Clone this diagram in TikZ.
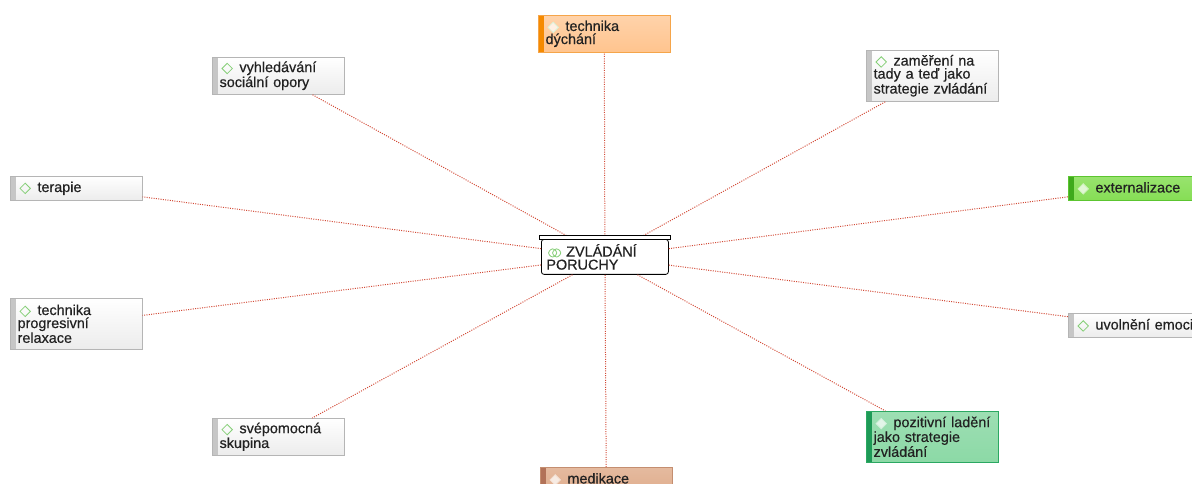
\documentclass[tikz,border=0pt]{standalone}
\usepackage{fontspec}
\setmainfont{Liberation Sans}[FakeBold=0.5]
\definecolor{linkred}{HTML}{D24A36}
\definecolor{grayfill}{HTML}{ECECEC}
\definecolor{grayline}{HTML}{B5B5B5}
\definecolor{graybar}{HTML}{C6C6C6}
\definecolor{gemgreen}{HTML}{86CF78}
\definecolor{orangefill}{HTML}{FFC48E}
\definecolor{orangebar}{HTML}{F58A00}
\definecolor{orangeline}{HTML}{F5A54A}
\definecolor{limefill}{HTML}{86DE55}
\definecolor{limebar}{HTML}{3FAA1C}
\definecolor{limeline}{HTML}{5CC530}
\definecolor{mintfill}{HTML}{8CD9A6}
\definecolor{mintbar}{HTML}{1E9A57}
\definecolor{mintline}{HTML}{2BA862}
\definecolor{brownfill}{HTML}{E0AE8E}
\definecolor{brownbar}{HTML}{B27258}
\definecolor{brownline}{HTML}{C48E70}
\definecolor{textgray}{HTML}{222222}
% small diamond in front of each topic
\newcommand\gem[1][draw=gemgreen]{\hspace*{1.5pt}\tikz[baseline={(0,-2.7pt)}]\path[#1,line width=0.6pt] (0,-3.9pt)--(3.9pt,0)--(0,3.9pt)--(-3.9pt,0)--cycle;\hspace{5pt}\ignorespaces}
\newcommand\gemtwo{\hspace*{0.5pt}\tikz[baseline={(0,-2.7pt)}]{\draw[gemgreen,line width=0.6pt] (0,-3.9pt)--(3.9pt,0)--(0,3.9pt)--(-3.9pt,0)--cycle;
  \draw[gemgreen,line width=0.6pt] (3pt,-3.9pt)--(6.9pt,0)--(3pt,3.9pt)--(-0.9pt,0)--cycle;}\hspace{3pt}\ignorespaces}
\begin{document}
\begin{tikzpicture}[x=0.75pt,y=-0.75pt,font=\fontsize{10.8}{9.8}\selectfont,text=textgray]
        \tikzset{bar_style/.style={path picture={\fill[#1] (path picture bounding box.north west) rectangle ([xshift=4.3pt]path picture bounding box.south west);}}}
        \tikzstyle{topic_style} = [anchor=north west,draw=grayline,top color=white,bottom color=grayfill,bar_style=graybar,
          inner xsep=5.5pt,inner ysep=1pt,text width=88pt,minimum width=99pt,align=left]
        \tikzstyle{orange_style} = [draw=orangeline,top color=orangefill!75!white,bottom color=orangefill,bar_style=orangebar]
        \tikzstyle{lime_style} = [draw=limeline,top color=limefill!85!white,bottom color=limefill,bar_style=limebar]
        \tikzstyle{mint_style} = [draw=mintline,top color=mintfill!85!white,bottom color=mintfill,bar_style=mintbar]
        \tikzstyle{brown_style} = [draw=brownline,top color=brownfill!85!white,bottom color=brownfill,bar_style=brownbar]
        \tikzstyle{one_line} = [minimum height=18pt]
        \tikzstyle{two_lines} = [minimum height=27.75pt]
        \tikzstyle{three_lines} = [minimum height=38.25pt]
        \tikzstyle{core_style} = [anchor=north west,draw=black,fill=white,rounded corners=2pt,line width=0.6pt,
          inner xsep=3.75pt,inner ysep=1pt,text width=87.75pt,minimum width=95.25pt,minimum height=26.25pt,align=left]
        \tikzstyle{link_style} = [draw=linkred,densely dotted,line width=0.75pt]
        \clip (0,0) rectangle (1192,484);
        \node[core_style] (core) at (541,239) {\gemtwo ZVLÁDÁNÍ\\PORUCHY};
        \node[topic_style,orange_style,two_lines] (dychani) at (538,15) {\gem[draw=gemgreen!30!white,fill=white!75!orangefill] technika\\dýchání};
        \node[topic_style,three_lines] (zamereni) at (866,50) {\gem zaměření na\\tady a teď jako\\strategie zvládání};
        \node[topic_style,lime_style,one_line] (externalizace) at (1068,176) {\gem[draw=white!60!limefill,fill=white!75!limefill] externalizace};
        \node[topic_style,one_line] (uvolneni) at (1068,313) {\mbox{\gem uvolnění emoci}};
        \node[topic_style,mint_style,three_lines] (pozitivni) at (866,411) {\gem[draw=white!60!mintfill,fill=white!75!mintfill] pozitivní ladění\\jako strategie\\zvládání};
        \node[topic_style,brown_style,one_line] (medikace) at (540,467) {\gem[draw=white!60!brownfill,fill=white!75!brownfill] medikace};
        \node[topic_style,two_lines] (svepomoc) at (212,418) {\gem svépomocná\\skupina};
        \node[topic_style,three_lines] (relaxace) at (10,298) {\gem technika\\progresivní\\relaxace};
        \node[topic_style,one_line] (terapie) at (10,176) {\gem terapie};
        \node[topic_style,two_lines] (opora) at (212,57) {\gem vyhledávání\\sociální opory};
        \draw[link_style] (core) -- (dychani);
        \draw[link_style] (core) -- (zamereni);
        \draw[link_style] (core) -- (externalizace);
        \draw[link_style] (core) -- (uvolneni);
        \draw[link_style] (core) -- (pozitivni);
        \draw[link_style] (core) -- (medikace);
        \draw[link_style] (core) -- (svepomoc);
        \draw[link_style] (core) -- (relaxace);
        \draw[link_style] (core) -- (terapie);
        \draw[link_style] (core) -- (opora);
        \draw[fill=white,line width=0.6pt] ([xshift=-1.5pt]core.north west) rectangle ([xshift=1.5pt,yshift=3pt]core.north east);
      \end{tikzpicture}
\end{document}
